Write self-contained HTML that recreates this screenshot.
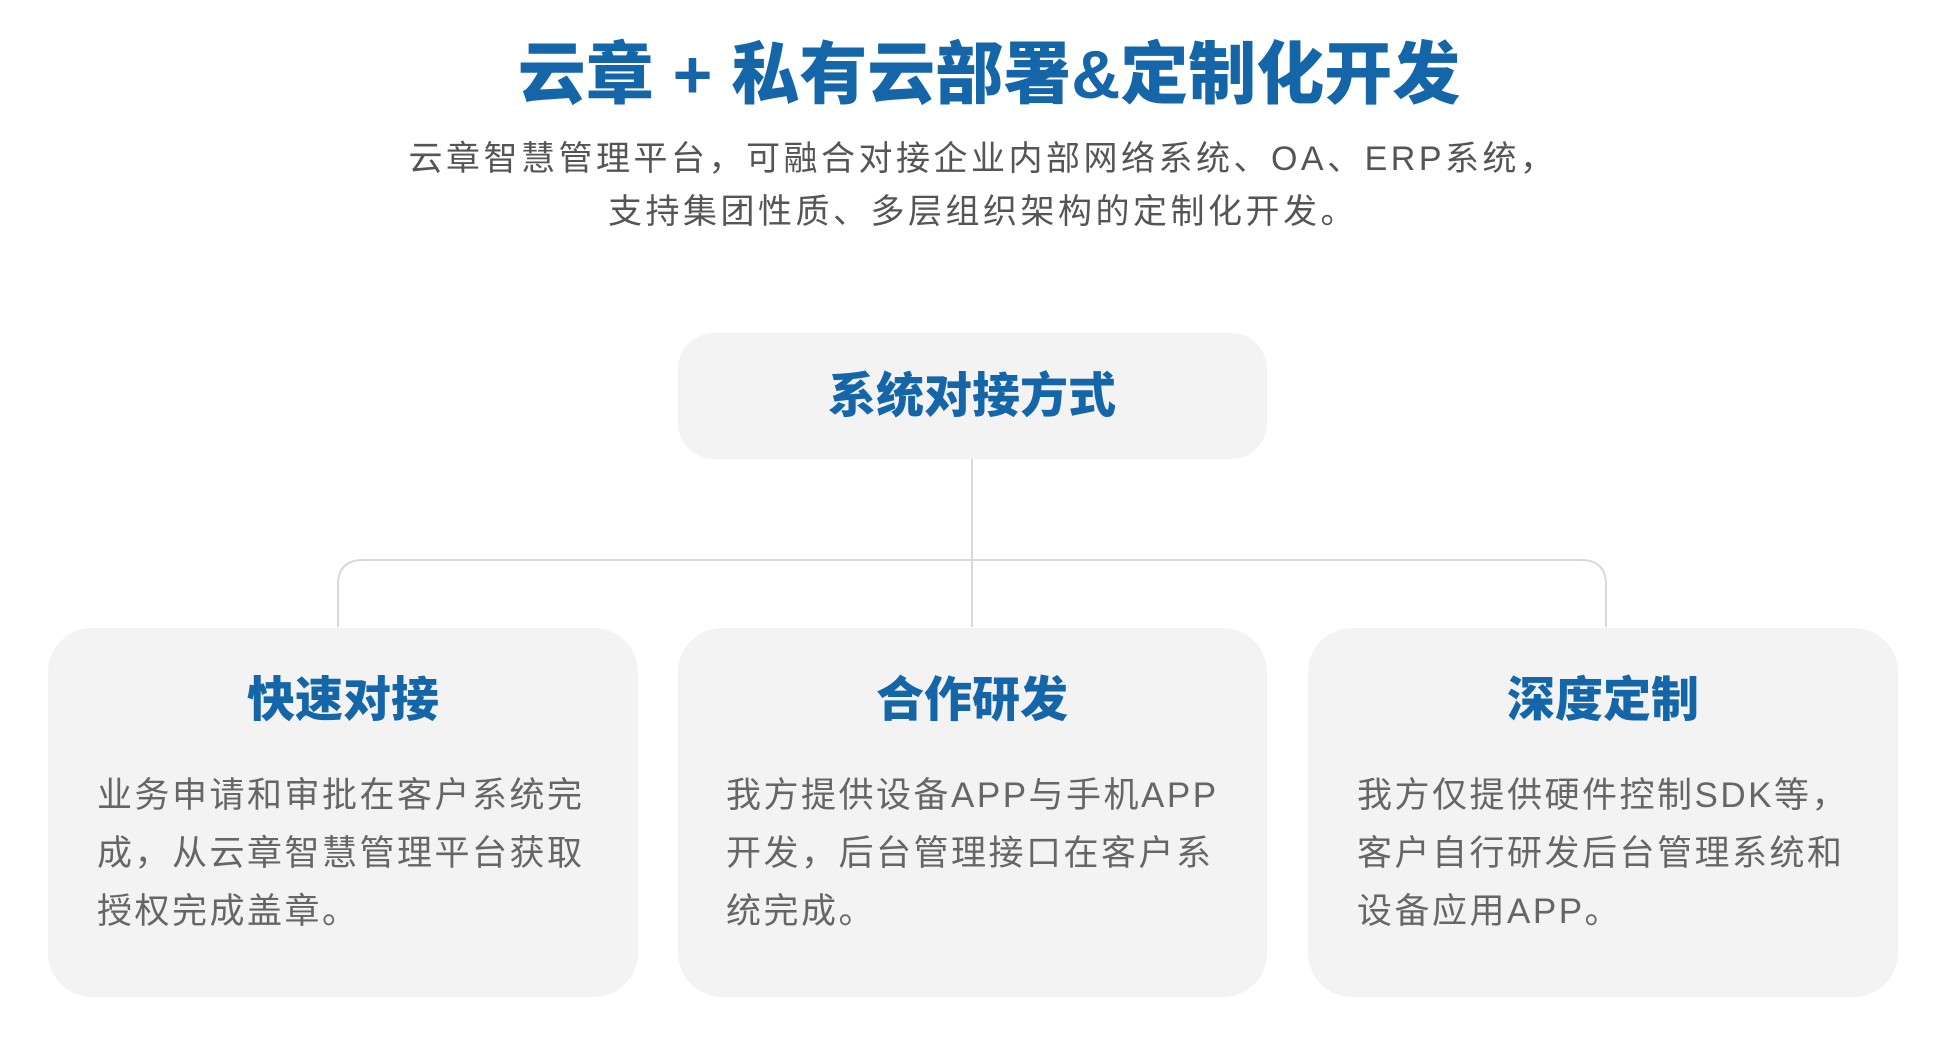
<!DOCTYPE html>
<html><head><meta charset="utf-8"><style>
body{margin:0;width:1946px;height:1051px;background:#fff;position:relative;overflow:hidden;font-family:"Liberation Sans","Noto Sans CJK SC",sans-serif}
.a{position:absolute;white-space:nowrap}
.c{transform:translateX(-50%)}
.t{color:#1466a8;font-weight:900}
.box{position:absolute;background:#f3f3f3}
.body{color:#666;font-size:35px;line-height:58px;letter-spacing:2.5px}
</style></head><body>
<div class="a c t" style="left:989px;top:35px;font-size:68px;line-height:80px">云章 + 私有云部署&amp;定制化开发</div>
<div class="a c" style="left:983px;top:133px;font-size:34px;line-height:53px;color:#555;text-align:center;letter-spacing:3.5px">云章智慧管理平台，可融合对接企业内部网络系统、OA、ERP系统，<br>支持集团性质、多层组织架构的定制化开发。</div>

<svg class="a" style="left:0;top:0" width="1946" height="1051">
<g fill="none" stroke="#d9d9d9" stroke-width="2">
<path d="M972 459 V627"/>
<path d="M338 627 V585 Q338 560 363 560 H1581 Q1606 560 1606 585 V627"/>
</g></svg>

<div class="box" style="left:678px;top:333px;width:589px;height:126px;border-radius:36px"></div>
<div class="a c t" style="left:972px;top:368px;font-size:48px;line-height:58px">系统对接方式</div>

<div class="box" style="left:48px;top:628px;width:590px;height:369px;border-radius:44px"></div>
<div class="box" style="left:678px;top:628px;width:589px;height:369px;border-radius:44px"></div>
<div class="box" style="left:1308px;top:628px;width:590px;height:369px;border-radius:44px"></div>

<div class="a c t" style="left:343px;top:672px;font-size:48px;line-height:58px">快速对接</div>
<div class="a c t" style="left:972px;top:672px;font-size:48px;line-height:58px">合作研发</div>
<div class="a c t" style="left:1603px;top:672px;font-size:48px;line-height:58px">深度定制</div>

<div class="a body" style="left:97px;top:767px">业务申请和审批在客户系统完<br>成，从云章智慧管理平台获取<br>授权完成盖章。</div>
<div class="a body" style="left:726px;top:767px">我方提供设备APP与手机APP<br>开发，后台管理接口在客户系<br>统完成。</div>
<div class="a body" style="left:1357px;top:767px">我方仅提供硬件控制SDK等，<br>客户自行研发后台管理系统和<br>设备应用APP。</div>
</body></html>
